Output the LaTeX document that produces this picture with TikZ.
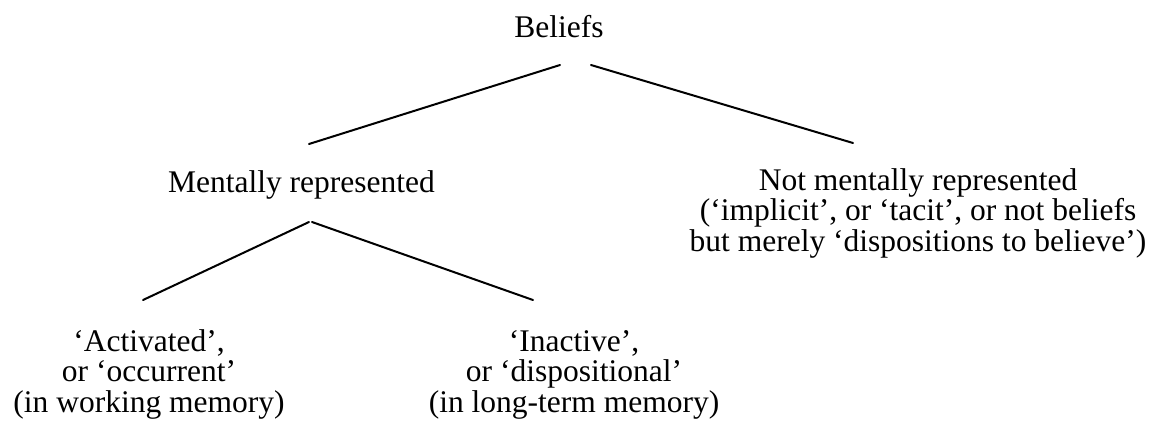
\documentclass[tikz,border=0pt]{standalone}
\usepackage{fontspec}
\setmainfont{Liberation Serif}
\usetikzlibrary{positioning,calc}
\tikzset{
    % Text
    tree text/.style={align=center,inner sep=0pt,outer sep=0pt,
        font=\fontsize{15.75}{15.25}\selectfont},
    %
    % Lines
    branch/.style={line width=1pt,line cap=round}
}

\begin{document}
\begin{tikzpicture}[x=0.5pt,y=-0.5pt]
        \useasboundingbox (0,0) rectangle (1160,429);
        
        % base of a multi-line node is its last line
        \node[tree text,anchor=base] (beliefs) at (559,37) {Beliefs};
        \node[tree text,anchor=base] (mental) at (301.5,192) {Mentally represented};
        \node[tree text,anchor=base] (notmental) at (918,251)
            {Not mentally represented\\(`implicit', or `tacit', or not beliefs\\but merely `dispositions to believe')};
        \node[tree text,anchor=base] (active) at (149,412)
            {`Activated',\\or `occurrent'\\(in working memory)};
        \node[tree text,anchor=base] (inactive) at (574,412)
            {`Inactive',\\or `dispositional'\\(in long-term memory)};
        
        \draw[branch] ([shift={(1,28)}]beliefs.base) -- ([shift={(7.5,-48)}]mental.base);
        \draw[branch] ([shift={(32,28)}]beliefs.base) -- ([shift={(-65,-108)}]notmental.base);
        \draw[branch] ([shift={(7.5,30)}]mental.base) -- ([shift={(-6,-112)}]active.base);
        \draw[branch] ([shift={(10.5,30)}]mental.base) -- ([shift={(-41,-112)}]inactive.base);
    \end{tikzpicture}
\end{document}
